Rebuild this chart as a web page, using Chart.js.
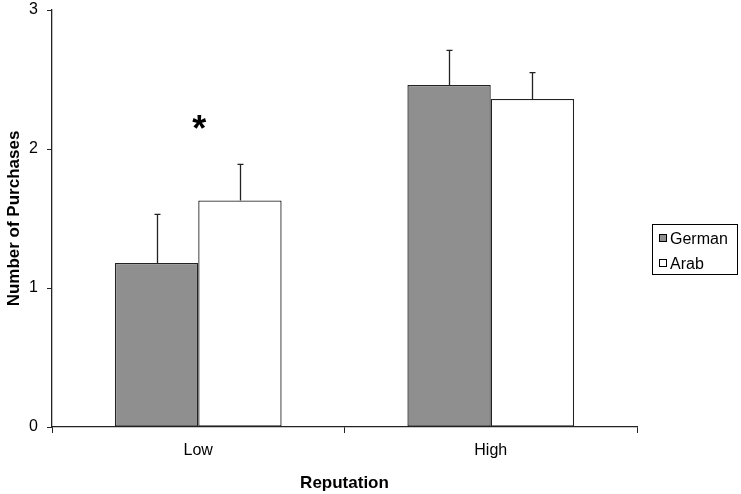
<!DOCTYPE html>
<html>
<head>
<meta charset="utf-8">
<script src="https://cdn.jsdelivr.net/npm/chart.js@4/dist/chart.umd.min.js"></script>
<style>
html,body{margin:0;padding:0;background:#fff;}
#wrap{width:741px;height:494px;}
</style>
</head>
<body>
<div id="wrap"><canvas id="c" width="741" height="494"></canvas></div>
<script>
const categories = ['Low', 'High'];
const seriesNames = ['German', 'Arab'];
const germanValues = [1.18, 2.46];
const arabValues = [1.63, 2.36];
const germanErrors = [0.35, 0.25];
const arabErrors = [0.26, 0.19];
const yTicks = [0, 1, 2, 3];
const starCategory = 0;
const starValue = 2.16;

const FONT = "'Liberation Sans', Arial, sans-serif";

const errorBarPlugin = {
  id: 'errorBars',
  afterDatasetsDraw(chart) {
    const ctx = chart.ctx;
    const y = chart.scales.y;
    const errs = [germanErrors, arabErrors];
    ctx.save();
    ctx.strokeStyle = '#222';
    ctx.lineWidth = 1.3;
    chart.data.datasets.forEach((ds, di) => {
      const meta = chart.getDatasetMeta(di);
      meta.data.forEach((el, i) => {
        const topV = ds.data[i] + errs[di][i];
        const yTop = y.getPixelForValue(topV);
        const x = Math.round(el.x) + 0.5;
        ctx.beginPath();
        ctx.moveTo(x, el.y);
        ctx.lineTo(x, yTop);
        ctx.moveTo(x - 3, yTop);
        ctx.lineTo(x + 3, yTop);
        ctx.stroke();
      });
    });
    // significance star
    const xs = chart.scales.x;
    ctx.fillStyle = '#000';
    ctx.font = "bold 36px " + FONT;
    ctx.textAlign = 'center';
    ctx.textBaseline = 'middle';
    ctx.fillText('*', xs.getPixelForValue(starCategory) + 1, y.getPixelForValue(starValue) + 4);
    // legend
    const ca = chart.chartArea;
    const lx = ca.right + 15, ly = 224, lw = 85, lh = 50;
    ctx.strokeStyle = '#000';
    ctx.lineWidth = 1;
    ctx.strokeRect(lx + 0.5, ly + 0.5, lw, lh);
    ctx.font = "16px " + FONT;
    ctx.textAlign = 'left';
    ctx.textBaseline = 'middle';
    chart.data.datasets.forEach((ds, di) => {
      const cy = ly + 15 + di * 25;
      ctx.fillStyle = ds.backgroundColor;
      ctx.fillRect(lx + 7.5, cy - 4.5, 7, 7);
      ctx.strokeStyle = '#000';
      ctx.strokeRect(lx + 7.5, cy - 4.5, 7, 7);
      ctx.fillStyle = '#000';
      ctx.fillText(ds.label, lx + 18, cy + 1);
    });
    ctx.restore();
  }
};

new Chart(document.getElementById('c'), {
  type: 'bar',
  data: {
    labels: categories,
    datasets: [
      { label: seriesNames[0], data: germanValues, backgroundColor: '#8f8f8f', borderColor: '#222', borderWidth: 1.3, borderSkipped: false },
      { label: seriesNames[1], data: arabValues, backgroundColor: '#ffffff', borderColor: '#222', borderWidth: 1.3, borderSkipped: false }
    ]
  },
  options: {
    responsive: false,
    animation: false,
    devicePixelRatio: 1,
    categoryPercentage: 0.57,
    barPercentage: 1.0,
    layout: { padding: { top: 10, right: 104, left: 0, bottom: 0 } },
    plugins: { legend: { display: false }, tooltip: { enabled: false } },
    scales: {
      x: {
        grid: { display: true, drawOnChartArea: false, drawTicks: true, tickLength: 6, color: '#222', offset: true },
        border: { display: true, color: '#222', width: 1.3 },
        ticks: { color: '#000', font: { family: FONT, size: 16 }, padding: 8, maxRotation: 0 },
        title: { display: true, text: 'Reputation', color: '#000', font: { family: FONT, size: 17, weight: 'bold' }, padding: { top: 6, bottom: 0 } },
        afterFit(scale) { scale.height = 67; scale.paddingLeft = 0; scale.paddingRight = 0; }
      },
      y: {
        min: 0, max: 3,
        afterBuildTicks(scale) { scale.ticks = yTicks.map(v => ({ value: v })); },
        grid: { display: true, drawOnChartArea: false, drawTicks: true, tickLength: 5, color: '#222' },
        border: { display: true, color: '#222', width: 1.3 },
        ticks: { color: '#000', font: { family: FONT, size: 16 }, padding: 9 },
        title: { display: true, text: 'Number of Purchases', color: '#000', font: { family: FONT, size: 17, weight: 'bold' }, padding: { top: 4, bottom: 0 } },
        afterFit(scale) { scale.width = 52; scale.paddingTop = 0; scale.paddingBottom = 0; }
      }
    }
  },
  plugins: [errorBarPlugin]
});
</script>
</body>
</html>
